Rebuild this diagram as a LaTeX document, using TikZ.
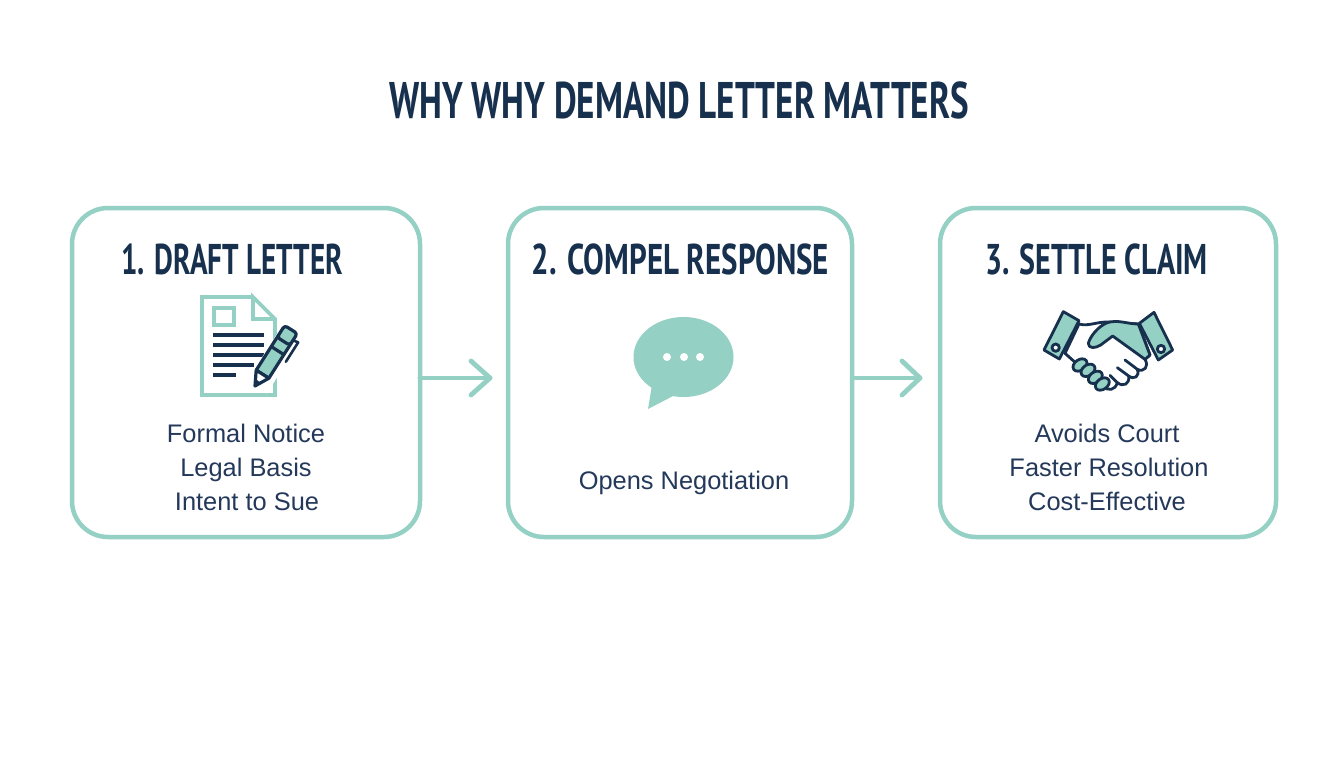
\documentclass[tikz,border=0pt]{standalone}
\usepackage{fontspec}
\usepackage{graphicx}
\setmainfont{Liberation Sans}
\newfontfamily\condfont[FakeStretch=0.72]{PT Sans}
\newfontfamily\titlefont[FakeStretch=0.68]{PT Sans}
\definecolor{navy}{HTML}{16304D}
\definecolor{teal}{HTML}{95D0C4}
\definecolor{bodytxt}{HTML}{24395A}
\tikzset{
  x=1pt,y=-1pt,
  cardbox/.style={draw=teal,line width=4.5pt,rounded corners=36pt,fill=white},
  heading/.style={text=navy,inner sep=0pt,font=\condfont\bfseries\fontsize{43}{43}\selectfont,anchor=center},
  titletext/.style={text=navy,inner sep=0pt,font=\titlefont\bfseries\fontsize{51.5}{51.5}\selectfont,anchor=center},
  bodyline/.style={text=bodytxt,inner sep=0pt,font=\fontsize{25.4}{25.4}\selectfont,anchor=base},
  flow/.style={draw=teal,line width=4.8pt,line cap=round,line join=round},
  navyline/.style={draw=navy,line width=3.2pt,line join=round,line cap=round},
  docline/.style={draw=navy,line width=3.4pt},
  docedge/.style={draw=teal,line width=3.6pt,line join=miter},
  handline/.style={draw=navy,line width=2.8pt,line join=round,line cap=round},
}
\begin{document}
\begin{tikzpicture}
\useasboundingbox (0,0) rectangle (1344,768);
\fill[white] (0,0) rectangle (1344,768);
\node[titletext] (title) at (679,100) {WHY WHY DEMAND LETTER MATTERS};
\path[cardbox] (72,208) rectangle (420,537);
\path[cardbox] (508,208) rectangle (852,537);
\path[cardbox] (940,208) rectangle (1276,537);
\coordinate (b1r) at (420,378);
\coordinate (b2l) at (490,378);
\coordinate (b2r) at (853,378);
\coordinate (b3l) at (920,378);
\draw[flow] (b1r) -- (b2l);
\draw[flow] (471,361) -- (b2l) -- (471,395);
\draw[flow] (b2r) -- (b3l);
\draw[flow] (902,361) -- (b3l) -- (902,395);
\node[heading] (h1) at (232,259) {\scalebox{0.94}[1]{1. DRAFT LETTER}};
\node[heading] (h2) at (680.5,259) {2. COMPEL RESPONSE};
\node[heading] (h3) at (1096.5,259) {\scalebox{0.97}[1]{3. SETTLE CLAIM}};
\node[bodyline] (t11) at (246,442.5) {Formal Notice};
\node[bodyline] (t12) at (246,476.5) {Legal Basis};
\node[bodyline] (t13) at (247,510) {Intent to Sue};
\node[bodyline] (t21) at (684,489.5) {Opens Negotiation};
\node[bodyline] (t31) at (1107,442.5) {Avoids Court};
\node[bodyline] (t32) at (1109,476.5) {Faster Resolution};
\node[bodyline] (t33) at (1107,510) {Cost-Effective};
% document icon
\draw[docedge] (253,297) -- (202,297) -- (202,395) -- (275,395) -- (275,319) -- (253,297) -- (253,319) -- (275,319);
\draw[docedge] (214,308) rectangle (234,325);
\draw[docline] (213,335) -- (264,335);
\draw[docline] (213,345) -- (264,345);
\draw[docline] (213,355) -- (264,355);
\draw[docline] (213,365) -- (254,365);
\draw[docline] (213,375) -- (236,375);
% pen
\begin{scope}[shift={(255,386)},rotate=57.5]
  \fill[white] (0,-9.5) rectangle (68,14);
  \draw[navyline,fill=teal] (14,-7.5) -- (56,-7.5) -- (56,7.5) -- (14,7.5) -- cycle;
  \draw[navyline,fill=white] (14,-7.5) -- (0,0) -- (14,7.5) -- cycle;
  \fill[navy] (0,0) -- (6,-3.5) -- (6,3.5) -- cycle;
  \draw[navyline,fill=teal,rounded corners=3pt] (53,-7.5) -- (67,-7.5) -- (67,7.5) -- (53,7.5) -- cycle;
  \draw[navyline] (42,-7.5) -- (42,7.5);
  \draw[navyline,line width=2.6pt] (59,7.5) -- (60,13) -- (37,13);
\end{scope}
% bubble
\fill[teal] (683.5,357) ellipse [x radius=50,y radius=40];
\fill[teal] (652,385) -- (648,409) -- (675,395) -- cycle;
\fill[white] (667,357) circle (4);
\fill[white] (684,357) circle (4);
\fill[white] (700,357) circle (4);
% handshake
\begin{scope}[shift={(1030,300)},x=0.3333pt,y=-0.3333pt]
  % white hand
  \draw[handline,fill=white] (147,72) .. controls (175,80) and (200,65) .. (235,66) -- (325,72) -- (360,165) -- (345,178)
     .. controls (358,200) and (342,218) .. (322,208) .. controls (330,230) and (312,240) .. (296,228)
     .. controls (300,252) and (280,262) .. (262,248) .. controls (255,272) and (235,274) .. (215,258) -- (105,160) -- cycle;
  \draw[handline] (285,180) -- (322,208);
  \draw[handline] (262,203) -- (296,228);
  \draw[handline] (240,226) -- (262,248);
  % teal hand
  \draw[handline,fill=teal] (325,72) .. controls (290,72) and (265,58) .. (232,68)
     .. controls (205,78) and (180,110) .. (175,130) .. controls (175,147) and (197,145) .. (212,135)
     -- (248,108) -- (345,178) -- (360,165) -- cycle;
  % fingers
  \foreach \fx/\fy in {150/195,174/211,196/232,217/252}
    \draw[handline,fill=teal,rotate around={35:(\fx,\fy)}] (\fx,\fy) ellipse [x radius=23,y radius=16];
  % cuffs
  \draw[handline,fill=teal] (100,35) -- (147,62) -- (88,177) -- (42,150) -- cycle;
  \draw[handline,fill=teal] (372,37) -- (428,150) -- (385,180) -- (328,70) -- cycle;
  \draw[handline,fill=white] (77,143) circle (11);
  \draw[handline,fill=white] (393,147) circle (11);
\end{scope}
\end{tikzpicture}
\end{document}
